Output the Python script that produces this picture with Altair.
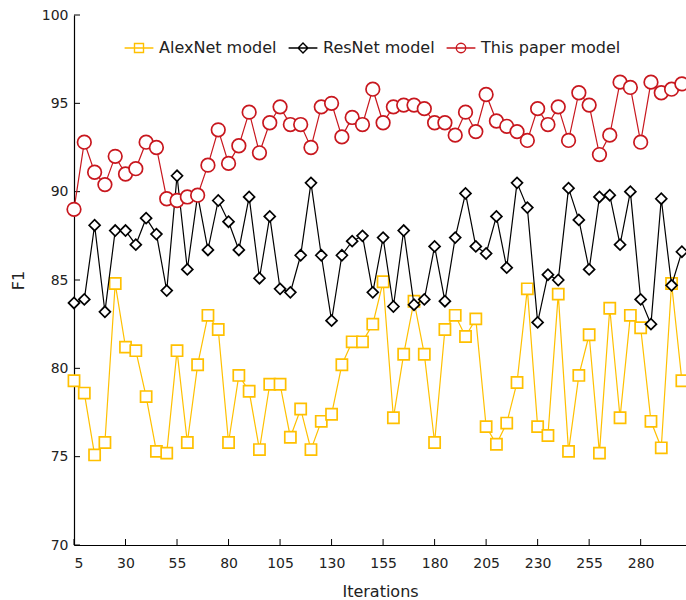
import altair as alt
import pandas as pd

iterations = list(range(5, 305, 5))
series_names = ["AlexNet model", "ResNet model", "This paper model"]

alexnet = [79.3, 78.6, 75.1, 75.8, 84.8, 81.2, 81.0, 78.4, 75.3, 75.2,
           81.0, 75.8, 80.2, 83.0, 82.2, 75.8, 79.6, 78.7, 75.4, 79.1,
           79.1, 76.1, 77.7, 75.4, 77.0, 77.4, 80.2, 81.5, 81.5, 82.5,
           84.9, 77.2, 80.8, 83.8, 80.8, 75.8, 82.2, 83.0, 81.8, 82.8,
           76.7, 75.7, 76.9, 79.2, 84.5, 76.7, 76.2, 84.2, 75.3, 79.6,
           81.9, 75.2, 83.4, 77.2, 83.0, 82.3, 77.0, 75.5, 84.8, 79.3]

resnet = [83.7, 83.9, 88.1, 83.2, 87.8, 87.8, 87.0, 88.5, 87.6, 84.4,
          90.9, 85.6, 89.8, 86.7, 89.5, 88.3, 86.7, 89.7, 85.1, 88.6,
          84.5, 84.3, 86.4, 90.5, 86.4, 82.7, 86.4, 87.2, 87.5, 84.3,
          87.4, 83.5, 87.8, 83.6, 83.9, 86.9, 83.8, 87.4, 89.9, 86.9,
          86.5, 88.6, 85.7, 90.5, 89.1, 82.6, 85.3, 85.0, 90.2, 88.4,
          85.6, 89.7, 89.8, 87.0, 90.0, 83.9, 82.5, 89.6, 84.7, 86.6]

paper = [89.0, 92.8, 91.1, 90.4, 92.0, 91.0, 91.3, 92.8, 92.5, 89.6,
         89.5, 89.7, 89.8, 91.5, 93.5, 91.6, 92.6, 94.5, 92.2, 93.9,
         94.8, 93.8, 93.8, 92.5, 94.8, 95.0, 93.1, 94.2, 93.8, 95.8,
         93.9, 94.8, 94.9, 94.9, 94.7, 93.9, 93.9, 93.2, 94.5, 93.4,
         95.5, 94.0, 93.7, 93.4, 92.9, 94.7, 93.8, 94.8, 92.9, 95.6,
         94.9, 92.1, 93.2, 96.2, 95.9, 92.8, 96.2, 95.6, 95.8, 96.1]

x_ticks = [5, 30, 55, 80, 105, 130, 155, 180, 205, 230, 255, 280]
y_ticks = [70, 75, 80, 85, 90, 95, 100]

colors = ["#FFC000", "#000000", "#C8171E"]
shapes = ["square", "diamond", "circle"]
sizes = [125, 120, 185]

rows = []
for name, vals in zip(series_names, [alexnet, resnet, paper]):
    for it, v in zip(iterations, vals):
        rows.append({"Iterations": it, "F1": v, "series": name})
df = pd.DataFrame(rows)

FONT = "DejaVu Sans"

# legend symbols: a short line running through a hollow marker
leg_sq = "M-3.2,0H3.2M-1,-1H1V1H-1Z"
leg_di = "M-3.2,0H3.2M0,-1.1L1.1,0L0,1.1L-1.1,0Z"
leg_ci = "M-3.2,0H3.2M1.05,0A1.05,1.05 0 1,1 -1.05,0A1.05,1.05 0 1,1 1.05,0Z"

x_scale = alt.Scale(domain=[5, 302], nice=False, zero=False)
y_scale = alt.Scale(domain=[70, 100], nice=False, zero=False)

x_enc = alt.X("Iterations:Q", scale=x_scale,
              axis=alt.Axis(values=x_ticks, title="Iterations", grid=False,
                            ticks=False, labelPadding=11, titlePadding=13))
y_enc = alt.Y("F1:Q", scale=y_scale,
              axis=alt.Axis(values=y_ticks, title="F1", grid=False,
                            ticks=False, labelPadding=6, titlePadding=15))

color_scale = alt.Scale(domain=series_names, range=colors)
legend = alt.Legend(
    title=None, orient="none", direction="horizontal",
    legendX=57, legendY=25, symbolSize=81,
    symbolStrokeWidth=1.4, symbolFillColor="transparent", symbolType="circle",
    labelOffset=12, columnPadding=8, labelFontSize=16,
    labelFont=FONT, labelColor="#222222")
color_enc = alt.Color("series:N", scale=color_scale, title=None, legend=legend)

layers = []
for i, name in enumerate(series_names):
    sub = alt.Chart(df).transform_filter(alt.datum.series == name)
    line = sub.mark_line(strokeWidth=1.2).encode(
        x=x_enc, y=y_enc, color=color_enc,
    )
    pts = sub.mark_point(filled=False, fill="white", fillOpacity=1, opacity=1,
                         strokeWidth=1.7, shape=shapes[i], size=sizes[i]).encode(
        x=x_enc, y=y_enc, color=color_enc,
    )
    layers += [line, pts]

# legend-only layer (draws no data, only supplies the legend shapes)
legend_layer = alt.Chart(df).transform_filter("datum.F1 < 0").mark_point(
    filled=False, strokeWidth=1.4
).encode(
    x=x_enc, y=y_enc, color=color_enc,
    shape=alt.Shape("series:N", title=None, legend=legend,
                    scale=alt.Scale(domain=series_names,
                                    range=[leg_sq, leg_di, leg_ci])),
)

# inward tick marks
y_tick_df = pd.DataFrame({"F1": y_ticks})
x_tick_df = pd.DataFrame({"Iterations": x_ticks})
y_tick_layer = alt.Chart(y_tick_df).mark_rule(color="black", strokeWidth=1).encode(
    y=alt.Y("F1:Q", scale=y_scale), x=alt.value(0), x2=alt.value(6))
x_tick_layer = alt.Chart(x_tick_df).mark_rule(color="black", strokeWidth=1).encode(
    x=alt.X("Iterations:Q", scale=x_scale), y=alt.value(530), y2=alt.value(524))

chart = alt.layer(y_tick_layer, x_tick_layer, *layers, legend_layer).properties(
    width=612, height=530,
    padding={"left": 74, "top": 15, "right": 0, "bottom": 55},
    autosize="none", background="white",
).configure_view(stroke=None).configure_axis(
    domainColor="#000000", domainWidth=1.2,
    labelFont=FONT, titleFont=FONT, labelFontSize=14, titleFontSize=16,
    labelColor="#222222", titleColor="#222222", titleFontWeight="normal",
)

chart.save("out.html", embed_options={"renderer": "svg", "actions": False})
